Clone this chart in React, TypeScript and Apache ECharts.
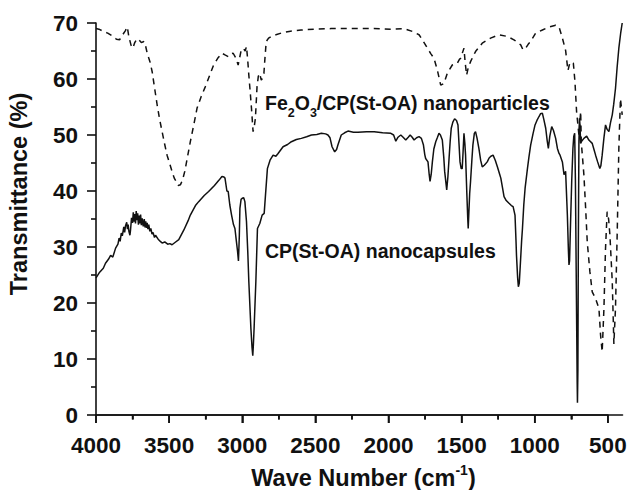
import React, { useEffect, useRef } from "react";
import * as echarts from "echarts";

// CP(St-OA) nanocapsules (solid line)
const capsWN = [
  4000, 3975, 3950, 3935, 3915, 3900, 3885, 3866, 3850, 3842, 3835, 3827, 3820, 3810, 3804, 3798,
  3790, 3785, 3780, 3775, 3768, 3764, 3757, 3750, 3745, 3740, 3735, 3730, 3725, 3720, 3715, 3710,
  3705, 3700, 3695, 3690, 3684, 3677, 3670, 3665, 3660, 3655, 3650, 3645, 3639, 3632, 3625, 3617,
  3610, 3600, 3593, 3575, 3560, 3548, 3530, 3510, 3495, 3480, 3460, 3434, 3400, 3370, 3355, 3320,
  3298, 3260, 3230, 3190, 3160, 3139, 3125, 3118, 3105, 3096, 3085, 3073, 3060, 3050, 3040, 3032,
  3026, 3020, 3016, 3008, 3000, 2990, 2982, 2971, 2962, 2955, 2941, 2933, 2928, 2924, 2919, 2907,
  2896, 2880, 2864, 2850, 2841, 2828, 2810, 2789, 2770, 2755, 2721, 2690, 2664, 2630, 2596, 2560,
  2527, 2490, 2459, 2430, 2414, 2400, 2386, 2368, 2355, 2346, 2323, 2300, 2277, 2240, 2209, 2150,
  2098, 2040, 1984, 1965, 1950, 1935, 1916, 1900, 1882, 1865, 1852, 1838, 1825, 1808, 1791, 1775,
  1761, 1752, 1746, 1730, 1722, 1716, 1708, 1700, 1690, 1677, 1665, 1655, 1645, 1632, 1622, 1616,
  1602, 1594, 1586, 1578, 1571, 1560, 1548, 1535, 1525, 1518, 1511, 1503, 1496, 1490, 1484, 1478,
  1473, 1465, 1458, 1455, 1450, 1445, 1439, 1430, 1423, 1413, 1405, 1395, 1382, 1370, 1359, 1345,
  1325, 1312, 1300, 1285, 1270, 1255, 1240, 1232, 1220, 1210, 1195, 1176, 1160, 1148, 1135, 1128,
  1125, 1117, 1112, 1106, 1100, 1090, 1084, 1075, 1066, 1050, 1040, 1028, 1012, 998, 985, 971,
  960, 948, 938, 925, 915, 907, 897, 884, 872, 857, 845, 834, 827, 811, 800, 789,
  777, 770, 766, 762, 755, 747, 739, 733, 727, 722, 718, 713, 710, 708, 705, 702,
  698, 694, 691, 686, 682, 664, 645, 630, 607, 595, 584, 570, 555, 548, 539, 527,
  516, 505, 493, 482, 470, 460, 448, 437, 425, 412, 402,
];
const capsT = [
  24.5, 25.5, 26.2, 27.1, 27.8, 28.5, 28.2, 29.8, 30.5, 31.6, 31.0, 32.5, 32.0, 33.6, 32.6, 33.8,
  34.4, 33.2, 34.0, 32.8, 32.1, 33.0, 35.2, 34.3, 36.2, 34.5, 35.9, 34.2, 36.4, 34.8, 36.0, 34.0,
  35.6, 34.2, 35.8, 33.9, 35.1, 33.7, 35.0, 33.5, 34.6, 33.4, 34.3, 33.2, 34.0, 32.8, 33.3, 32.3,
  32.6, 31.7, 32.1, 31.4, 31.0, 30.7, 30.9, 30.5, 30.6, 30.4, 30.8, 31.3, 33.0, 34.7, 35.7, 37.4,
  38.1, 39.2, 39.9, 41.0, 41.9, 42.6, 42.5, 42.3, 40.0, 39.9, 37.5, 35.7, 34.0, 33.3, 31.0, 29.2,
  27.5, 32.0, 36.9, 38.5, 38.7, 38.8, 38.1, 34.5, 29.0, 23.8, 15.5, 12.0, 10.6, 12.5, 15.5, 23.8,
  33.3, 34.2, 35.7, 36.0, 39.3, 44.0, 45.5, 46.4, 46.2, 46.7, 47.9, 48.3, 48.8, 49.2, 49.4, 49.7,
  50.0, 50.1, 50.3, 50.2, 50.0, 49.5, 47.9, 47.0, 47.4, 48.2, 50.0, 50.4, 50.7, 50.5, 50.5, 50.6,
  50.6, 50.4, 50.3, 50.0, 48.9, 49.6, 50.0, 49.6, 49.1, 49.6, 50.0, 49.6, 49.1, 49.5, 49.7, 49.4,
  48.2, 46.5, 45.8, 45.2, 43.0, 41.7, 43.0, 45.2, 47.5, 48.8, 49.6, 50.3, 50.0, 49.1, 46.0, 43.5,
  40.2, 42.5, 45.8, 49.0, 51.2, 52.3, 52.9, 52.6, 51.8, 48.5, 45.2, 44.0, 44.0, 47.0, 50.3, 48.5,
  46.4, 40.0, 35.0, 33.3, 36.5, 39.5, 41.7, 45.5, 48.2, 50.3, 50.6, 49.5, 47.6, 45.5, 44.3, 44.6,
  45.2, 45.9, 46.2, 46.4, 45.5, 44.3, 43.0, 42.3, 40.5, 39.0, 38.3, 37.8, 37.4, 37.2, 35.7, 31.0,
  28.6, 24.5, 22.9, 23.5, 26.2, 31.0, 33.3, 37.5, 40.5, 44.0, 46.0, 48.2, 50.2, 51.8, 52.6, 53.3,
  53.8, 53.9, 52.8, 51.2, 49.0, 47.6, 49.8, 51.5, 50.8, 49.4, 47.6, 46.7, 46.4, 45.2, 42.9, 43.5,
  35.7, 29.5, 26.8, 27.5, 34.5, 42.0, 47.6, 49.8, 50.3, 42.0, 29.8, 15.0, 6.0, 2.2, 8.0, 30.0,
  48.8, 53.0, 51.8, 48.5, 48.8, 49.4, 49.8, 49.1, 48.5, 47.4, 46.4, 45.2, 44.0, 44.5, 46.4, 49.5,
  51.8, 51.0, 50.6, 52.2, 53.6, 55.5, 58.3, 62.0, 65.5, 68.3, 70.0,
];

// Fe2O3/CP(St-OA) nanoparticles (dashed line)
const partWN = [
  4000, 3980, 3950, 3920, 3889, 3860, 3839, 3820, 3800, 3786, 3775, 3760, 3748, 3735, 3720, 3707,
  3690, 3673, 3660, 3650, 3630, 3616, 3600, 3582, 3565, 3548, 3530, 3514, 3495, 3480, 3465, 3452,
  3438, 3423, 3408, 3393, 3375, 3355, 3330, 3309, 3280, 3253, 3225, 3196, 3165, 3139, 3118, 3096,
  3078, 3062, 3045, 3028, 3010, 2994, 2980, 2971, 2963, 2955, 2945, 2937, 2926, 2918, 2910, 2899,
  2890, 2881, 2870, 2860, 2852, 2844, 2836, 2820, 2802, 2770, 2734, 2680, 2598, 2500, 2393, 2300,
  2211, 2100, 1984, 1893, 1837, 1791, 1768, 1734, 1710, 1689, 1666, 1643, 1621, 1598, 1580, 1564,
  1530, 1515, 1507, 1484, 1476, 1466, 1455, 1439, 1405, 1359, 1302, 1244, 1187, 1142, 1096, 1080,
  1062, 1045, 1028, 994, 948, 903, 857, 834, 811, 789, 773, 759, 736, 725, 714, 698,
  686, 682, 664, 652, 641, 623, 607, 584, 561, 550, 539, 527, 516, 505, 495, 486,
  470, 459, 448, 436, 425, 414, 402,
];
const partT = [
  69.0, 68.9, 68.5, 68.2, 67.7, 67.1, 67.0, 67.8, 68.6, 69.3, 67.5, 66.0, 65.5, 66.5, 67.2, 67.0,
  66.5, 66.7, 65.8, 64.6, 63.0, 61.3, 58.5, 55.4, 52.8, 50.6, 48.3, 46.4, 44.8, 43.5, 42.3, 41.7,
  41.0, 41.1, 42.0, 43.5, 46.0, 48.8, 52.0, 54.8, 56.9, 58.6, 60.5, 62.5, 63.8, 64.6, 64.3, 64.0,
  64.5, 64.6, 63.8, 62.5, 64.8, 65.5, 65.0, 65.8, 63.5, 60.7, 57.5, 54.8, 50.6, 51.5, 53.0, 58.6,
  60.5, 61.0, 59.8, 60.2, 61.0, 64.0, 66.7, 67.3, 67.6, 67.9, 68.2, 68.5, 68.75, 68.9, 69.0, 69.0,
  69.0, 69.0, 68.9, 69.0, 68.5, 67.9, 67.0, 65.5, 64.5, 63.7, 61.6, 58.9, 59.2, 61.0, 61.8, 62.5,
  62.8, 63.5, 63.7, 65.5, 63.0, 60.7, 62.0, 63.1, 64.9, 66.4, 67.3, 67.9, 67.6, 67.0, 66.1, 65.2,
  65.5, 66.2, 66.7, 68.2, 68.75, 69.3, 69.6, 69.3, 67.3, 65.1, 61.5, 63.0, 62.8, 59.5, 54.2, 50.0,
  54.2, 48.8, 42.9, 36.9, 30.9, 25.6, 22.0, 20.8, 19.0, 14.3, 11.3, 19.0, 29.8, 36.3, 35.0, 32.1,
  23.8, 12.7, 19.0, 32.7, 47.6, 56.5, 53.6,
];

// axis ranges and tick values (cm^-1, %)
const xRange = [4000, 400];
const xMajorTicks = [4000, 3500, 3000, 2500, 2000, 1500, 1000, 500];
const xMinorTicks = [3750, 3250, 2750, 2250, 1750, 1250, 750];
const xTickStep = 500;
const yRange = [0, 70];
const yTickStep = 10;

const FONT = "'Liberation Sans', Arial, Helvetica, sans-serif";
const INK = "#111111";

const ls = () => ({ color: INK, width: 1.6 });

export default function App() {
  const ref = useRef<HTMLDivElement>(null);
  useEffect(() => {
    if (!ref.current) return;
    const chart = echarts.init(ref.current, null, { renderer: "svg" });
    const capsData = capsWN.map((w, i) => [-w, capsT[i]]);
    const partData = partWN.map((w, i) => [-w, partT[i]]);

    const gridLeft = 96;
    const gridRight = 7.5;
    const plotW = 630 - gridLeft - gridRight;
    const lastTick = xMajorTicks[xMajorTicks.length - 1];
    // second grid that carries the x labels ends at the last labelled tick
    const tickGridRight = gridRight + (plotW * (lastTick - xRange[1])) / (xRange[0] - xRange[1]);

    const texts = [
      {
        type: "text",
        id: "t1",
        x: 265,
        y: 103,
        style: {
          text: "{a|Fe}{s|2}{a|O}{s|3}{a|/CP(St-OA) nanoparticles}",
          align: "left",
          textAlign: "left",
          verticalAlign: "middle",
          textVerticalAlign: "middle",
          fill: INK,
          rich: {
            a: { fontSize: 19.5, fontWeight: "bold", fontFamily: FONT, color: INK, lineHeight: 32 },
            s: {
              fontSize: 12.5,
              fontWeight: "bold",
              fontFamily: FONT,
              color: INK,
              verticalAlign: "bottom",
              lineHeight: 14,
            },
          },
        },
      },
      {
        type: "text",
        id: "t2",
        x: 265,
        y: 251,
        style: {
          text: "CP(St-OA) nanocapsules",
          align: "left",
          textAlign: "left",
          verticalAlign: "middle",
          textVerticalAlign: "middle",
          fill: INK,
          font: `bold 19.5px ${FONT}`,
        },
      },
      {
        type: "text",
        id: "t3",
        x: 363.5,
        y: 478,
        style: {
          text: "{m|Wave Number (cm}{s|-1}{m|)}",
          align: "center",
          textAlign: "center",
          verticalAlign: "middle",
          textVerticalAlign: "middle",
          fill: INK,
          rich: {
            m: { fontSize: 23.5, fontWeight: "bold", fontFamily: FONT, color: INK, lineHeight: 30 },
            s: {
              fontSize: 14,
              fontWeight: "bold",
              fontFamily: FONT,
              color: INK,
              verticalAlign: "top",
              lineHeight: 14,
            },
          },
        },
      },
      {
        type: "text",
        id: "t4",
        x: 19,
        y: 194,
        rotation: Math.PI / 2,
        style: {
          text: "Transmittance (%)",
          align: "center",
          textAlign: "center",
          verticalAlign: "middle",
          textVerticalAlign: "middle",
          fill: INK,
          font: `bold 23.5px ${FONT}`,
        },
      },
    ];

    chart.setOption({
      animation: false,
      backgroundColor: "#ffffff",
      grid: [
        { left: gridLeft, right: gridRight, top: 23, bottom: 75, containLabel: false },
        { left: gridLeft, right: tickGridRight, top: 23, bottom: 75, containLabel: false },
      ],
      xAxis: [
        {
          type: "value",
          gridIndex: 0,
          min: -xRange[0],
          max: -xRange[1],
          axisLine: { show: true, onZero: false, lineStyle: ls() },
          axisTick: { show: false },
          minorTick: { show: false },
          axisLabel: { show: false },
          splitLine: { show: false },
        },
        {
          type: "value",
          gridIndex: 1,
          min: -xMajorTicks[0],
          max: -lastTick,
          interval: xTickStep,
          axisLine: { show: true, onZero: false, lineStyle: ls() },
          axisTick: { show: true, length: 8, inside: false, lineStyle: ls() },
          minorTick: { show: true, splitNumber: 2, length: 4.5, lineStyle: ls() },
          axisLabel: {
            show: true,
            formatter: (v: number) => String(Math.abs(v)),
            fontSize: 22.5,
            fontWeight: "bold",
            fontFamily: FONT,
            color: INK,
            margin: 19,
          },
          splitLine: { show: false },
        },
      ],
      yAxis: [
        {
          type: "value",
          gridIndex: 0,
          min: yRange[0],
          max: yRange[1],
          interval: yTickStep,
          axisLine: { show: true, onZero: false, lineStyle: ls() },
          axisTick: { show: true, length: 9, inside: false, lineStyle: ls() },
          minorTick: { show: true, splitNumber: 2, length: 5, lineStyle: ls() },
          axisLabel: {
            fontSize: 22.5,
            fontWeight: "bold",
            fontFamily: FONT,
            color: INK,
            margin: 18,
          },
          splitLine: { show: false },
        },
        {
          type: "value",
          gridIndex: 1,
          min: yRange[0],
          max: yRange[1],
          show: false,
          splitLine: { show: false },
        },
      ],
      series: [
        {
          name: "Fe2O3/CP(St-OA) nanoparticles",
          type: "line",
          xAxisIndex: 0,
          yAxisIndex: 0,
          data: partData,
          showSymbol: false,
          symbol: "none",
          lineStyle: { color: INK, width: 1.5, type: [6, 5] },
          z: 2,
        },
        {
          name: "CP(St-OA) nanocapsules",
          type: "line",
          xAxisIndex: 0,
          yAxisIndex: 0,
          data: capsData,
          showSymbol: false,
          symbol: "none",
          lineStyle: { color: INK, width: 1.5, type: "solid" },
          z: 3,
        },
      ],
      graphic: texts,
    });

    // x-axis ticks positioned through the chart's own x scale
    const tickEls: any[] = [];
    const addTicks = (vals: number[], len: number, tag: string) => {
      vals.forEach((v, i) => {
        const p = chart.convertToPixel({ xAxisIndex: 0, yAxisIndex: 0 }, [-v, yRange[0]]) as number[];
        if (!p) return;
        tickEls.push({
          type: "line",
          id: `${tag}${i}`,
          silent: true,
          z: 100,
          shape: { x1: p[0], y1: p[1], x2: p[0], y2: p[1] + len },
          style: { stroke: INK, lineWidth: 1.6 },
        });
      });
    };
    addTicks(xMajorTicks, 8, "maj");
    addTicks(xMinorTicks, 4.5, "min");
    chart.setOption({ graphic: [...texts, ...tickEls] });

    return () => chart.dispose();
  }, []);
  return (
    <div
      ref={ref}
      style={{ position: "absolute", left: 0, top: 0, width: 630, height: 490, background: "#fff" }}
    />
  );
}
